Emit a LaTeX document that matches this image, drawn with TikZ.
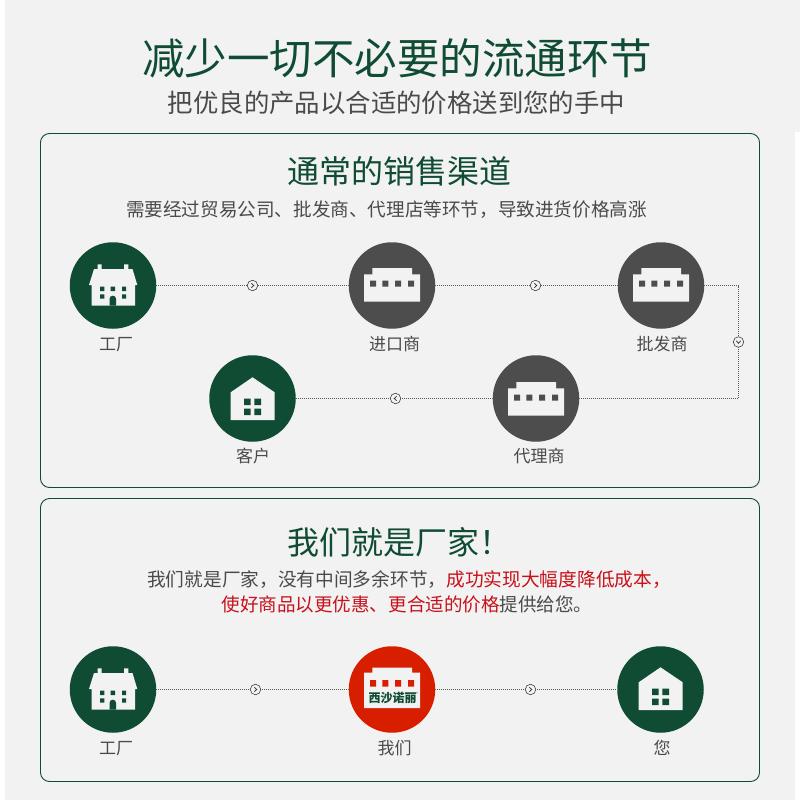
\documentclass[tikz,border=0pt]{standalone}
\usepackage{fontspec}
\setmainfont{Noto Sans CJK SC}
\definecolor{bggray}{HTML}{F2F2F2}
\definecolor{dkgreen}{HTML}{0F4C33}
\definecolor{dkgray}{HTML}{4D4D4D}
\definecolor{txtgray}{HTML}{4A4A4A}
\definecolor{myred}{HTML}{D71F00}
\definecolor{txtred}{HTML}{C8101A}
\newcommand{\fs}[1]{\fontsize{#1}{#1}\selectfont}
\newcommand{\housetall}[1]{%
  \begin{scope}[shift={(#1)}]
    \fill[bggray] (-21.3,0) -- (-24,0) -- (-19,-16) -- (-15.3,-16) -- (-15.3,-20.7) -- (-11.3,-20.7) -- (-11.3,-16) -- (11,-16) -- (11,-20.7) -- (15.3,-20.7) -- (15.3,-16) -- (19.5,-16) -- (24.3,0) -- (22,0) -- (22,20.7) -- (-21.3,20.7) -- cycle;
    \fill[dkgreen] (-13,1.7) rectangle (-8.7,6) (-2.3,1.7) rectangle (2,6) (9,1.7) rectangle (13.2,6)
      (-13,9.3) rectangle (-8.7,13.7) (9,9.3) rectangle (13.2,13.7);
    \fill[dkgreen] (-3.5,20.7) -- (-3.5,14) .. controls (-3.5,9.6) and (3.1,9.6) .. (3.1,14) -- (3.1,20.7) -- cycle;
  \end{scope}}
\newcommand{\shopbox}[2]{%
  \begin{scope}[shift={(#1)}]
    \fill[bggray] (-28,-10.7) -- (-19.7,-10.7) -- (-19.7,-17) -- (20,-17) -- (20,-10.7) -- (28,-10.7) -- (28,16.7) -- (-28,16.7) -- cycle;
    \fill[#2] (-22,-4.3) rectangle (-16,1.7) (-9.7,-4.3) rectangle (-3.7,1.7) (3,-4.3) rectangle (9,1.7) (16,-4.3) rectangle (22,1.7);
  \end{scope}}
\newcommand{\shopboxtall}[2]{%
  \begin{scope}[shift={(#1)}]
    \fill[bggray] (-28,-16.5) -- (-19.7,-16.5) -- (-19.7,-21.5) -- (20,-21.5) -- (20,-16.5) -- (28,-16.5) -- (28,19) -- (-28,19) -- cycle;
    \fill[#2] (-22,-9) rectangle (-16,-2.5) (-9.7,-9) rectangle (-3.7,-2.5) (3,-9) rectangle (9,-2.5) (16,-9) rectangle (22,-2.5);
  \end{scope}}
\newcommand{\househome}[1]{%
  \begin{scope}[shift={(#1)}]
    \fill[bggray] (-21.8,-6.2) -- (0,-21.2) -- (22.2,-6.2) -- (22.2,21.5) -- (-21.8,21.5) -- cycle;
    \fill[dkgreen] (-8.5,0) rectangle (-1.8,6.5) (1.8,0) rectangle (8.5,6.5)
      (-8.5,10) rectangle (-1.8,16.5) (1.8,10) rectangle (8.5,16.5);
  \end{scope}}
\tikzset{
  x=1pt,y=-1pt,
  panel/.style={draw=dkgreen,line width=0.9pt,rounded corners=9pt,fill=bggray},
  disc/.style={circle,inner sep=0pt,minimum size=86.5pt},
  greendisc/.style={disc,fill=dkgreen},
  graydisc/.style={disc,fill=dkgray},
  reddisc/.style={disc,fill=myred},
  link/.style={draw=black!65,line width=0.8pt,dash pattern=on 1pt off 1pt},
  badge/.style={circle,draw=black!75,fill=bggray,line width=0.6pt,inner sep=0pt,minimum size=10.5pt},
  lab/.style={text=txtgray,font=\fs{17}},
  chev/.style={draw=black!80,line width=0.7pt},
  title/.style={text=dkgreen},
}
\begin{document}
\begin{tikzpicture}
\useasboundingbox (0,0) rectangle (800,800);
\fill[white] (0,0) rectangle (800,800);
\fill[bggray] (5,0) rectangle (800,132);
\fill[bggray] (5,132) rectangle (795,800);
\draw[panel] (40.5,133.5) rectangle (759.5,487.5);
\draw[panel] (40.5,498.5) rectangle (759.5,781.5);
\node[title,font=\fs{42.5}] (t1) at (397,58.5) {减少一切不必要的流通环节};
\node[text=txtgray,font=\fs{25.4}] (t2) at (396.5,102.5) {把优良的产品以合适的价格送到您的手中};
\node[title,font=\fs{32}] (t3) at (399.5,171) {通常的销售渠道};
\node[text=txtgray,font=\fs{18.6}] (t4) at (386.5,209.5) {需要经过贸易公司、批发商、代理店等环节，导致进货价格高涨};
\node[title,font=\fs{32}] (t5) at (399.5,542) {我们就是厂家！};
\node[text=txtgray,font=\fs{18.7},inner sep=0pt] (t6) at (409,579.5) {我们就是厂家，没有中间多余环节，\textcolor{txtred}{成功实现大幅度降低成本，}};
\node[text=txtgray,font=\fs{18.55},inner sep=0pt] (t7) at (407,604.5) {\textcolor{txtred}{使好商品以更优惠、更合适的价格}提供给您。};
% upper
\node[greendisc] (f1) at (113,285.5) {};
\node[graydisc] (m1) at (392,285.5) {};
\node[graydisc] (m2) at (661,285.5) {};
\node[graydisc] (m3) at (536,398.5) {};
\node[greendisc] (c1) at (252.5,398.5) {};
\coordinate (corner1) at (738.5,285.5);
\coordinate (corner2) at (738.5,398.5);
\draw[link] (f1) -- (m1);
\draw[link] (m1) -- (m2);
\draw[link] (m2) -- (corner1) -- (corner2) -- (m3);
\draw[link] (m3) -- (c1);
\node[badge] (b1) at (252.5,285.5) {};
\node[badge] (b2) at (535.5,285.5) {};
\node[badge] (b3) at (738.5,342) {};
\node[badge] (b4) at (395.5,398.5) {};
\draw[chev] (251.3,283.3) -- (253.8,285.5) -- (251.3,287.7);
\draw[chev] (534.3,283.3) -- (536.8,285.5) -- (534.3,287.7);
\draw[chev] (736.3,340.8) -- (738.5,343.3) -- (740.7,340.8);
\draw[chev] (396.7,396.3) -- (394.2,398.5) -- (396.7,400.7);
\housetall{113,285}
\shopbox{392,285}{dkgray}
\shopbox{661,285}{dkgray}
\shopbox{536,399}{dkgray}
\househome{252.5,398.5}
\node[lab] (l1) at (116,345) {工厂};
\node[lab] (l2) at (394.5,344) {进口商};
\node[lab] (l3) at (662,344) {批发商};
\node[lab] (l4) at (539,456) {代理商};
\node[lab] (l5) at (253,456) {客户};
% lower
\node[greendisc] (f2) at (113,689.5) {};
\node[reddisc] (w1) at (392,689.5) {};
\node[greendisc] (y1) at (660.5,689.5) {};
\draw[link] (f2) -- (w1);
\draw[link] (w1) -- (y1);
\node[badge] (b5) at (255.5,689.5) {};
\node[badge] (b6) at (530.5,689.5) {};
\draw[chev] (254.3,687.3) -- (256.8,689.5) -- (254.3,691.7);
\draw[chev] (529.3,687.3) -- (531.8,689.5) -- (529.3,691.7);
\housetall{113,689}
\shopboxtall{392,689}{myred}
\node[text=dkgreen,font=\bfseries\fs{12},inner sep=0pt] (logo) at (392.5,697.5) {西沙诺丽};
\node[text=dkgreen,font=\fs{4},inner sep=0pt] (reg) at (417,694) {®};
\househome{660.5,688.5}
\node[lab] (l6) at (116,749) {工厂};
\node[lab] (l7) at (394.5,748) {我们};
\node[lab] (l8) at (662,748) {您};
\end{tikzpicture}
\end{document}
